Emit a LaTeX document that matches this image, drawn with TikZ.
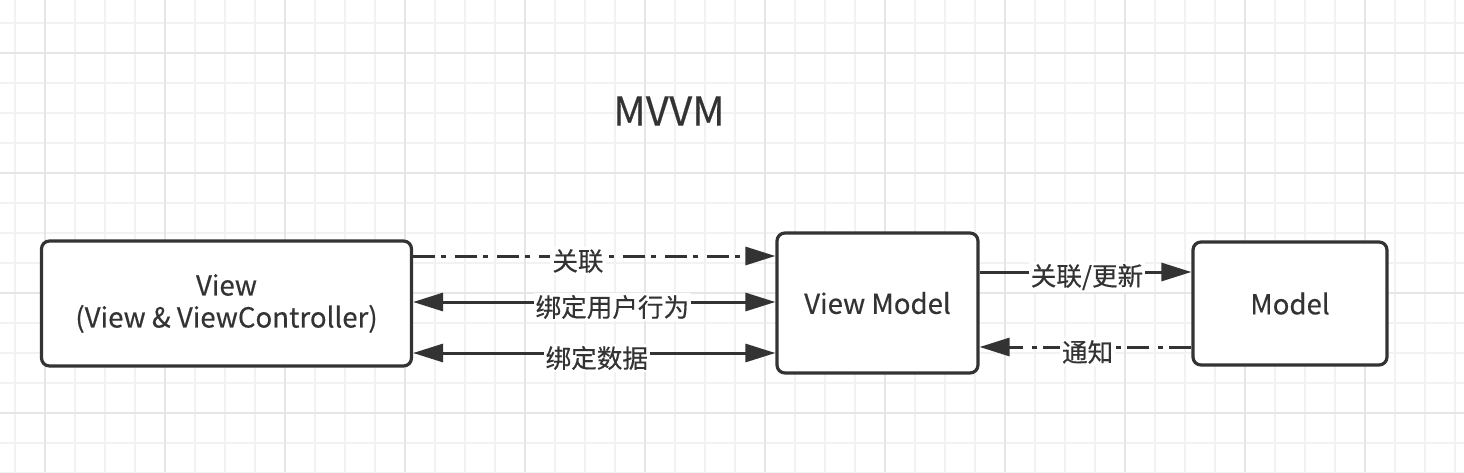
\documentclass[tikz,border=0pt]{standalone}
\usepackage{fontspec}
\setmainfont{Noto Sans CJK SC}[FakeBold=0.4]
\usetikzlibrary{arrows.meta}
\definecolor{ink}{HTML}{333333}
\definecolor{gridminor}{HTML}{F2F2F2}
\definecolor{gridmajor}{HTML}{E6E6E6}

\begin{document}
\begin{tikzpicture}[x=0.5pt,y=-0.5pt,
	>={Triangle[length=15pt,width=9pt]},
	box/.style={draw=ink,line width=1.6pt,rounded corners=4pt,fill=white,text=ink,align=center,inner sep=0,font=\fontsize{13.8}{16}\selectfont},
	link/.style={draw=ink,line width=1.5pt},
	dotdash/.style={dash pattern=on 11pt off 3pt on 2.5pt off 4.5pt},
	tag/.style={fill=white,text=ink,inner sep=1pt,yshift=-2.5pt,font=\fontsize{12.8}{14}\selectfont}]
\useasboundingbox (0,0) rectangle (1464,472);
\fill[white] (0,0) rectangle (1464,472);
% grid
\foreach \x in {15,45,...,1455} \draw[gridminor,line width=1pt] (\x,0)--(\x,472);
\foreach \y in {23,53,...,473} \draw[gridminor,line width=1pt] (0,\y)--(1464,\y);
\foreach \x in {45,165,...,1365} \draw[gridmajor,line width=1pt] (\x,0)--(\x,472);
\foreach \y in {53,173,...,413} \draw[gridmajor,line width=1pt] (0,\y)--(1464,\y);

\node[text=ink,font=\fontsize{20}{22}\selectfont] (title) at (669,111) {MVVM};
\node[box,minimum width=185pt,minimum height=62.5pt] (view) at (226.5,303.5) {View\\(View \& ViewController)};
\node[box,minimum width=100.5pt,minimum height=70pt] (vm) at (877.5,303) {View Model};
\node[box,minimum width=97pt,minimum height=61.5pt] (model) at (1290,303.5) {Model};

\draw[link,dotdash,->] ([yshift=23.75pt]view.east) -- ([yshift=23.75pt]view.east -| vm.west)
	node[tag,pos=0.455]{关联};
\draw[link,<->] ([yshift=0.75pt]view.east) -- ([yshift=0.75pt]view.east -| vm.west)
	node[tag,pos=0.55]{绑定用户行为};
\draw[link,<->] ([yshift=-24.75pt]view.east) -- ([yshift=-24.75pt]view.east -| vm.west)
	node[tag,pos=0.507]{绑定数据};
\draw[link,->] ([yshift=15.75pt]model.west -| vm.east) -- ([yshift=15.75pt]model.west)
	node[tag,pos=0.507]{关联/更新};
\draw[link,dotdash,->] ([yshift=-21.75pt]model.west) -- ([yshift=-21.75pt]model.west -| vm.east)
	node[tag,pos=0.49]{通知};
\end{tikzpicture}
\end{document}
